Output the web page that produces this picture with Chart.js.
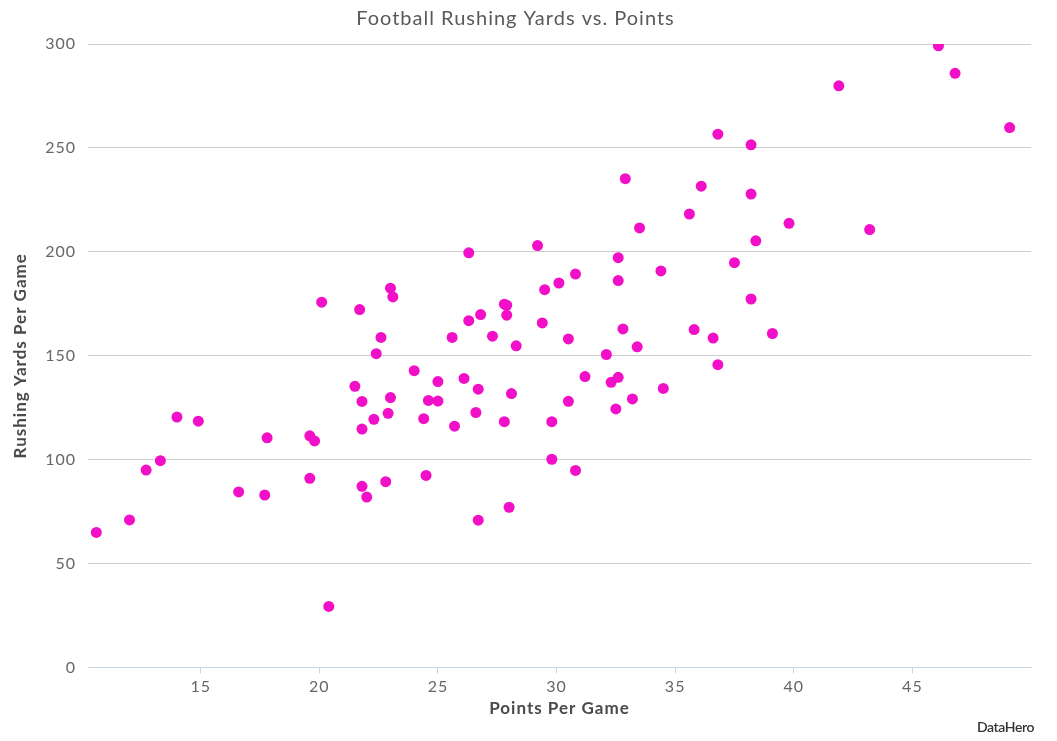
<!DOCTYPE html>
<html>
<head>
<meta charset="utf-8">
<script src="https://cdn.jsdelivr.net/npm/chart.js@4"></script>
<style>
  html, body { margin: 0; padding: 0; background: #fff; }
  #wrap { position: relative; width: 1057px; height: 741px; }
  #logo {
    position: absolute; left: 977px; top: 718px;
    font: 600 14px Lato, sans-serif; color: #333; letter-spacing: -0.4px;
  }
</style>
</head>
<body>
<div id="wrap">
  <canvas id="chart" width="1057" height="741"></canvas>
  <div id="logo">DataHero</div>
</div>
<script>
// points per game (x) and rushing yards per game (y)
const pointsPerGame = [
  10.6, 12.0, 12.7, 13.3, 14.0, 14.9, 16.6, 17.7, 17.8, 19.6,
  19.8, 19.6, 20.1, 20.4, 21.5, 21.7, 21.8, 21.8, 21.8, 22.0,
  22.3, 22.4, 22.6, 22.8, 22.9, 23.0, 23.0, 23.1, 24.0, 24.4,
  24.5, 24.6, 25.0, 25.0, 25.6, 25.7, 26.1, 26.3, 26.3, 26.6,
  26.7, 26.7, 26.8, 27.3, 27.8, 27.8, 27.9, 27.9, 28.0, 28.1,
  28.3, 29.2, 29.4, 29.5, 29.8, 29.8, 30.1, 30.5, 30.5, 30.8,
  30.8, 31.2, 32.1, 32.3, 32.5, 32.6, 32.6, 32.6, 32.8, 33.2,
  33.4, 33.5, 32.9, 34.4, 34.5, 35.6, 35.8, 36.1, 36.6, 36.8,
  36.8, 37.5, 38.2, 38.2, 38.2, 38.4, 39.1, 39.8, 41.9, 43.2,
  46.1, 46.8, 49.1
];
const rushingYards = [
  65, 71, 95, 99.5, 120.5, 118.5, 84.5, 83, 110.5, 111.5,
  109, 91, 175.8, 29.4, 135.3, 172.2, 128, 114.7, 87.2, 82,
  119.4, 151, 158.8, 89.4, 122.3, 129.9, 182.5, 178.3, 142.8, 119.7,
  92.4, 128.5, 128.2, 137.6, 158.8, 116.1, 139.1, 199.5, 166.9, 122.7,
  133.9, 70.9, 169.8, 159.4, 118.3, 174.8, 174.3, 169.5, 77.1, 131.8,
  154.8, 203, 165.8, 181.8, 118.3, 100.2, 185, 158.1, 128.1, 189.3,
  94.8, 140, 150.6, 137.2, 124.4, 139.6, 197.2, 186.2, 162.9, 129.2,
  154.3, 211.5, 235.2, 190.8, 134.3, 218.2, 162.6, 231.6, 158.5, 256.6,
  145.7, 194.8, 177.3, 251.5, 227.8, 205.3, 160.7, 213.7, 279.9, 210.7,
  299.1, 285.9, 259.8
];

const xTickValues = [15, 20, 25, 30, 35, 40, 45];

const chartTitle = 'Football Rushing Yards vs. Points';
const xTitle = 'Points Per Game';
const yTitle = 'Rushing Yards Per Game';

const scatterData = pointsPerGame.map((x, i) => ({ x: x, y: rushingYards[i] }));

const spacingPlugin = {
  id: 'spacing',
  beforeDraw(chart) { chart.ctx.letterSpacing = '1px'; }
};

new Chart(document.getElementById('chart'), {
  type: 'scatter',
  data: {
    datasets: [{
      data: scatterData,
      backgroundColor: '#f20fc8',
      borderWidth: 0,
      pointRadius: 5.5,
      pointHoverRadius: 6
    }]
  },
  options: {
    responsive: false,
    animation: false,
    layout: { padding: { left: 0, right: 26, top: 0, bottom: 0 } },
    plugins: {
      legend: { display: false },
      tooltip: { enabled: false },
      title: {
        display: true,
        text: chartTitle,
        color: '#5a5a5a',
        font: { family: 'Lato', size: 20, weight: 'normal' },
        padding: { top: 7, bottom: 13 }
      }
    },
    scales: {
      x: {
        type: 'linear',
        min: 10.25,
        max: 50,
        afterFit(scale) { scale.height = 73.5; },
        afterBuildTicks(scale) {
          scale.ticks = xTickValues.map(v => ({ value: v }));
        },
        ticks: {
          color: '#666',
          padding: 4,
          font: { family: 'Lato', size: 16 }
        },
        grid: {
          drawOnChartArea: false,
          drawTicks: true,
          tickLength: 6,
          color: '#c6d6e6'
        },
        border: { display: true, color: '#c6d6e6', width: 1 },
        title: {
          display: true,
          text: xTitle,
          color: '#4a4a4a',
          font: { family: 'Lato', size: 17, weight: 'bold' },
          padding: { top: 0, bottom: 22 }
        }
      },
      y: {
        min: 0,
        max: 300,
        afterFit(scale) { scale.width = 88; },
        ticks: {
          stepSize: 50,
          color: '#666',
          padding: 12,
          font: { family: 'Lato', size: 16 }
        },
        grid: {
          drawTicks: false,
          color: (ctx) => ctx.tick && ctx.tick.value === 0 ? 'rgba(0,0,0,0)' : '#cccccc'
        },
        border: { display: false },
        title: {
          display: true,
          text: yTitle,
          color: '#4a4a4a',
          font: { family: 'Lato', size: 17, weight: 'bold' },
          padding: { top: 10, bottom: 0 }
        }
      }
    }
  },
  plugins: [spacingPlugin]
});
</script>
</body>
</html>
